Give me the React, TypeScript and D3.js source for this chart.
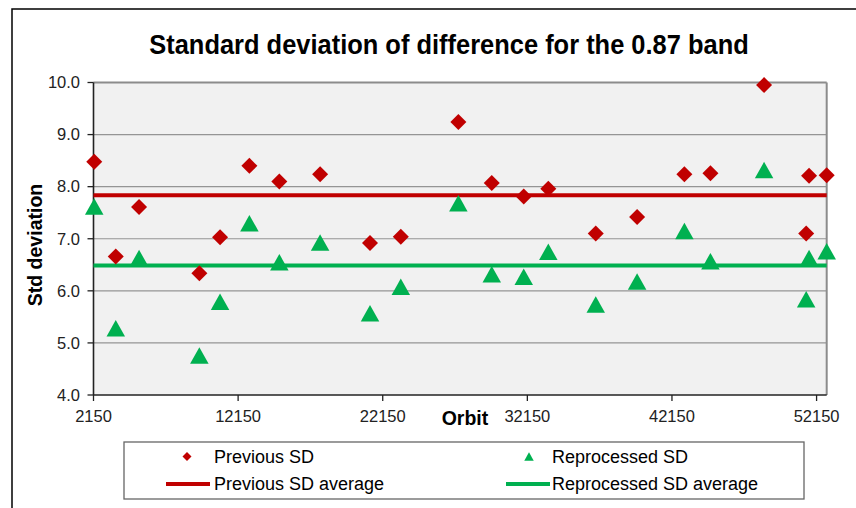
import * as d3 from "d3"

const ORBITS = [
  2200, 3690, 5300, 9470, 10900, 12930, 15000, 17820, 21270, 23400, 27380,
  29690, 31900, 33600, 36880, 39740, 43010, 44810, 48520, 51430, 51630, 52850,
]
const PREVIOUS_SD = [
  8.48, 6.66, 7.61, 6.34, 7.03, 8.4, 8.1, 8.24, 6.92, 7.04, 9.24, 8.07, 7.81,
  7.96, 7.1, 7.42, 8.24, 8.26, 9.95, 7.1, 8.21, 8.22,
]
const REPROCESSED_SD = [
  7.62, 5.28, 6.63, 4.76, 5.79, 7.3, 6.55, 6.93, 5.57, 6.08, 7.68, 6.32, 6.27,
  6.75, 5.74, 6.18, 7.15, 6.57, 8.32, 5.84, 6.63, 6.76,
]
const X_TICKS = [2150, 12150, 22150, 32150, 42150, 52150]
const Y_TICKS = [4, 5, 6, 7, 8, 9, 10]

const WIDTH = 856
const HEIGHT = 508
const PLOT = { left: 93.5, right: 826.7, top: 82.5, bottom: 395 }
const RED = "#c00000"
const GREEN = "#00b050"
const FONT = "'Liberation Sans', Arial, sans-serif"

const diamond = (r: number) => `M0,${-r}L${r},0L0,${r}L${-r},0Z`
const triangle = (w: number, h: number) =>
  `M0,${-h / 2}L${w / 2},${h / 2}L${-w / 2},${h / 2}Z`

export default function App() {
  const x = d3.scaleLinear().domain([2150, 52850]).range([PLOT.left, PLOT.right])
  const y = d3.scaleLinear().domain([4, 10]).range([PLOT.bottom, PLOT.top])
  const prevAvg = d3.mean(PREVIOUS_SD) ?? 0
  const reprocAvg = d3.mean(REPROCESSED_SD) ?? 0
  const fmt = d3.format(".1f")

  return (
    <svg
      width={WIDTH}
      height={HEIGHT}
      style={{ position: "absolute", left: 0, top: 0, background: "white" }}
      fontFamily={FONT}
    >
      {/* chart frame, clipped by the window on right and bottom */}
      <rect x={12} y={9} width={900} height={600} fill="white" stroke="#000" strokeWidth={1.5} />

      <text
        transform="translate(449,54) scale(0.95,1)"
        textAnchor="middle"
        fontSize={26.8}
        fontWeight="bold"
        fill="#000"
      >
        Standard deviation of difference for the 0.87 band
      </text>

      {/* plot area */}
      <rect
        x={PLOT.left}
        y={PLOT.top}
        width={PLOT.right - PLOT.left}
        height={PLOT.bottom - PLOT.top}
        fill="#f1f1f1"
      />
      {Y_TICKS.slice(1, -1).map((t) => (
        <line key={t} x1={PLOT.left} x2={PLOT.right} y1={y(t)} y2={y(t)} stroke="#959595" strokeWidth={1.2} />
      ))}
      <line x1={PLOT.left} x2={PLOT.right} y1={PLOT.top} y2={PLOT.top} stroke="#8c8c8c" strokeWidth={2} />
      <line x1={PLOT.right} x2={PLOT.right} y1={PLOT.top} y2={PLOT.bottom} stroke="#8c8c8c" strokeWidth={2} />

      {/* axes */}
      <line x1={PLOT.left} x2={PLOT.left} y1={PLOT.top} y2={PLOT.bottom} stroke="#222" strokeWidth={1.6} />
      <line x1={PLOT.left} x2={PLOT.right} y1={PLOT.bottom} y2={PLOT.bottom} stroke="#222" strokeWidth={1.6} />
      {Y_TICKS.map((t) => (
        <g key={t}>
          <line x1={PLOT.left - 6} x2={PLOT.left} y1={y(t)} y2={y(t)} stroke="#222" strokeWidth={1.3} />
          <text x={80} y={y(t) + 5.8} textAnchor="end" fontSize={16.5} fill="#222">
            {fmt(t)}
          </text>
        </g>
      ))}
      {X_TICKS.map((t) => (
        <g key={t}>
          <line x1={x(t)} x2={x(t)} y1={PLOT.bottom} y2={PLOT.bottom + 6} stroke="#222" strokeWidth={1.3} />
          <text x={x(t)} y={421.5} textAnchor="middle" fontSize={16.5} fill="#222">
            {t}
          </text>
        </g>
      ))}

      <text
        transform={`translate(41.5,245) rotate(-90)`}
        textAnchor="middle"
        fontSize={19.5}
        fontWeight="bold"
        fill="#000"
      >
        Std deviation
      </text>
      <text x={465} y={425} textAnchor="middle" fontSize={19.5} fontWeight="bold" fill="#000">
        Orbit
      </text>

      {/* average lines */}
      <line x1={PLOT.left} x2={PLOT.right} y1={y(prevAvg)} y2={y(prevAvg)} stroke={RED} strokeWidth={4} />
      <line x1={PLOT.left} x2={PLOT.right} y1={y(reprocAvg)} y2={y(reprocAvg)} stroke={GREEN} strokeWidth={4} />

      {/* markers */}
      {ORBITS.map((o, i) => (
        <path key={`p${i}`} d={diamond(8)} transform={`translate(${x(o)},${y(PREVIOUS_SD[i])})`} fill={RED} />
      ))}
      {ORBITS.map((o, i) => (
        <path
          key={`r${i}`}
          d={triangle(18.5, 16.5)}
          transform={`translate(${x(o)},${y(REPROCESSED_SD[i])})`}
          fill={GREEN}
        />
      ))}

      {/* legend */}
      <rect x={124} y={442} width={680} height={57} fill="white" stroke="#666" strokeWidth={1.3} />
      <path d={diamond(4.5)} transform="translate(187,456.5)" fill={RED} />
      <text x={214} y={462.8} fontSize={18} fill="#000">Previous SD</text>
      <line x1={166} x2={210} y1={484} y2={484} stroke={RED} strokeWidth={4} />
      <text x={214} y={490.3} fontSize={18} fill="#000">Previous SD average</text>
      <path d={triangle(9.5, 8.5)} transform="translate(529,456.5)" fill={GREEN} />
      <text x={552} y={462.8} fontSize={18} fill="#000">Reprocessed SD</text>
      <line x1={506} x2={550} y1={484} y2={484} stroke={GREEN} strokeWidth={4} />
      <text x={552} y={490.3} fontSize={18} fill="#000">Reprocessed SD average</text>
    </svg>
  )
}
